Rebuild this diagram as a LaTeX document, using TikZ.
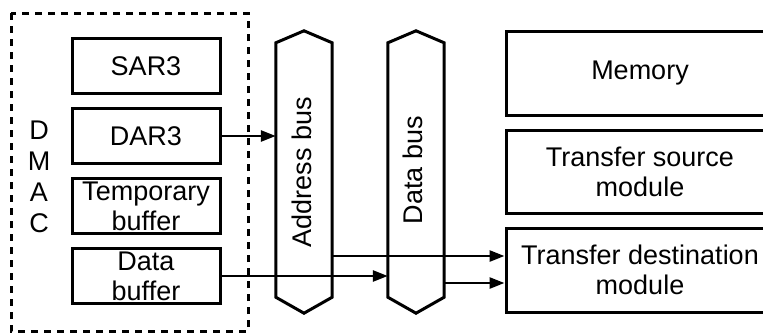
\documentclass[tikz,border=0pt]{standalone}
\usepackage{fontspec}
\setmainfont{Liberation Sans}
\usetikzlibrary{arrows.meta,calc}
\tikzset{
  blk/.style={draw, line width=3pt, minimum width=148pt, minimum height=55pt, inner sep=0pt, align=center, font=\fontsize{27}{30}\selectfont},
  rblk/.style={draw, line width=3pt, minimum width=268pt, minimum height=84pt, inner sep=0pt, align=center, font=\fontsize{27}{30}\selectfont},
  busbody/.style={minimum width=56pt, minimum height=254pt, inner sep=0pt},
  busline/.style={line width=3pt, line join=miter},
  arr/.style={line width=2.6pt, -{Triangle[length=15pt,width=11pt]}},
  lbl/.style={font=\fontsize{27}{30}\selectfont, inner sep=0pt}
}
\begin{document}
\begin{tikzpicture}[x=1pt,y=-1pt]
\clip (0,0) rectangle (763,333);
\fill[white] (0,0) rectangle (763,333);
% DMAC dashed box
\draw[line width=3pt, dash pattern=on 7pt off 6pt] (11,13) rectangle (248,331);
\node[lbl, align=center] (dmac) at (39,177) {D\\[1pt]M\\[1pt]A\\[1pt]C};
% DMAC blocks
\node[blk] (sar) at (146,66) {SAR3};
\node[blk] (dar) at (146,136) {DAR3};
\node[blk] (tmp) at (146,206) {Temporary\\buffer};
\node[blk] (dbuf) at (146,276) {Data\\buffer};
% buses
\node[busbody] (abus) at (304,170) {};
\node[busbody] (dbus) at (416,170) {};
\draw[busline] (abus.north west) -- ($(abus.north)+(0,-12)$) -- (abus.north east) -- (abus.south east) -- ($(abus.south)+(0,16)$) -- (abus.south west) -- cycle;
\draw[busline] (dbus.north west) -- ($(dbus.north)+(0,-12)$) -- (dbus.north east) -- (dbus.south east) -- ($(dbus.south)+(0,16)$) -- (dbus.south west) -- cycle;
\node[lbl, rotate=90] (alab) at (302,172) {Address bus};
\node[lbl, rotate=90] (dlab) at (413,170) {Data bus};
% right blocks
\node[rblk] (mem) at (640,73.5) {Memory};
\node[rblk, minimum height=83pt] (src) at (640,171.5) {Transfer source\\module};
\node[rblk] (dst) at (640,270) {Transfer destination\\module};
% connectors
\draw[arr] (dar.east) -- (abus.west |- dar.east);
\draw[arr] (dbuf.east) -- (dbus.west |- dbuf.east);
\coordinate (a1) at ($(abus.east)+(0,86)$);
\draw[arr] (a1) -- (dst.west |- a1);
\coordinate (d1) at ($(dbus.east)+(0,113)$);
\draw[arr] (d1) -- (dst.west |- d1);
\end{tikzpicture}
\end{document}
